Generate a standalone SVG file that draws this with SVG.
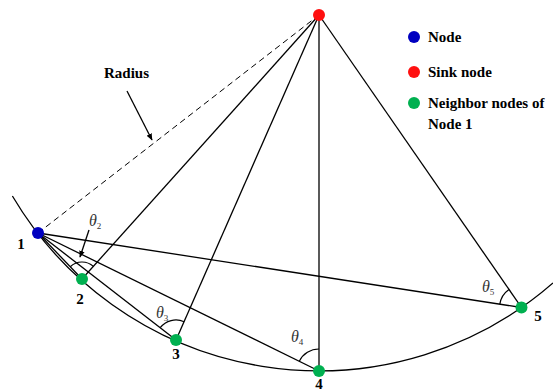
<svg xmlns="http://www.w3.org/2000/svg" width="553" height="392" viewBox="0 0 553 392">
<defs>
<marker id="ah" viewBox="0 0 10 10" refX="9" refY="5" markerWidth="7" markerHeight="7" markerUnits="userSpaceOnUse" orient="auto">
<path d="M0,1 L10,5 L0,9 Z" fill="#000"/>
</marker>
<style>
.ln{stroke:#000;stroke-width:1.3;fill:none}
.ang{stroke:#000;stroke-width:1.2;fill:none}
.dash{stroke:#000;stroke-width:1;stroke-dasharray:6 4;fill:none}
.lbl{font-weight:bold;font-size:15px;fill:#000}
.th{font-style:italic;font-size:16px;fill:#333}
.sub{font-style:normal;font-size:9px;fill:#333}
.blue{fill:#0000c0}.red{fill:#ff1010}.green{fill:#00b050}
</style>
</defs>
<rect width="553" height="392" fill="#fff"/>
<g id="connectors">
<path class="ln" d="M12.4,196 A356,356 0 0 0 553,283"/>
<line class="dash" x1="38" y1="233" x2="319" y2="15"/>
<line class="ln" x1="319" y1="15" x2="82" y2="279"/>
<line class="ln" x1="319" y1="15" x2="176" y2="340"/>
<line class="ln" x1="319" y1="15" x2="319" y2="371"/>
<line class="ln" x1="319" y1="15" x2="521.5" y2="307.5"/>
<line class="ln" x1="38" y1="233" x2="82" y2="279"/>
<line class="ln" x1="38" y1="233" x2="176" y2="340"/>
<line class="ln" x1="38" y1="233" x2="319" y2="371"/>
<line class="ln" x1="38" y1="233" x2="521.5" y2="307.5"/>
<path class="ang" d="M70.3,266.7 A17,17 0 0 1 93.4,266.4"/>
<path class="ang" d="M160.2,327.7 A20,20 0 0 1 184.1,321.7"/>
<path class="ang" d="M299.3,361.3 A22,22 0 0 1 319,349"/>
<path class="ang" d="M499.8,304.15 A22,22 0 0 1 509,289.4"/>
<line class="ln" x1="127" y1="91" x2="152" y2="140" marker-end="url(#ah)"/>
<line class="ln" x1="89" y1="230" x2="80" y2="257" marker-end="url(#ah)"/>
</g>
<g font-family="Liberation Serif, serif">
<g id="node1"><circle class="blue" cx="38" cy="233" r="6"/><text class="lbl" x="21" y="249" text-anchor="middle">1</text></g>
<g id="sink"><circle class="red" cx="319" cy="15" r="6"/></g>
<g id="node2"><circle class="green" cx="82" cy="279" r="6"/><text class="lbl" x="80" y="304" text-anchor="middle">2</text></g>
<g id="node3"><circle class="green" cx="176" cy="340" r="6"/><text class="lbl" x="176" y="359" text-anchor="middle">3</text></g>
<g id="node4"><circle class="green" cx="319" cy="371" r="6"/><text class="lbl" x="319" y="389" text-anchor="middle">4</text></g>
<g id="node5"><circle class="green" cx="521.5" cy="307.5" r="6"/><text class="lbl" x="538" y="321" text-anchor="middle">5</text></g>
<g id="angles">
<text class="th" x="89" y="226">θ<tspan class="sub" dy="3">2</tspan></text>
<text class="th" x="156" y="318">θ<tspan class="sub" dy="3">3</tspan></text>
<text class="th" x="291" y="342">θ<tspan class="sub" dy="3">4</tspan></text>
<text class="th" x="482" y="292">θ<tspan class="sub" dy="3">5</tspan></text>
</g>
<g id="radius-label"><text class="lbl" x="104" y="78">Radius</text></g>
<g id="legend">
<circle class="blue" cx="414" cy="37" r="6"/><text class="lbl" x="428" y="42" font-size="16">Node</text>
<circle class="red" cx="414" cy="72" r="6"/><text class="lbl" x="428" y="77" font-size="16">Sink node</text>
<circle class="green" cx="414" cy="103" r="6"/><text class="lbl" x="428" y="108" font-size="16">Neighbor nodes of</text>
<text class="lbl" x="428" y="129" font-size="16">Node 1</text>
</g>
</g>
</svg>
